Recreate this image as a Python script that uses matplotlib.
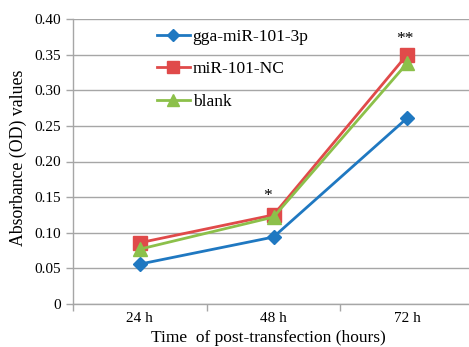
import matplotlib
matplotlib.use("Agg")
import matplotlib.pyplot as plt
import numpy as np

categories = ["24 h", "48 h", "72 h"]
mir101 = [0.056, 0.094, 0.261]
nc = [0.086, 0.125, 0.350]
blank = [0.077, 0.122, 0.338]
series_names = ["gga-miR-101-3p", "miR-101-NC", "blank"]
yticks = [0, 0.05, 0.10, 0.15, 0.20, 0.25, 0.30, 0.35, 0.40]
ytick_labels = ["0", "0.05", "0.10", "0.15", "0.20", "0.25", "0.30", "0.35", "0.40"]
star_pos = [(1, 0.152, "*"), (2, 0.372, "**")]

plt.rcParams['font.family'] = ['Liberation Serif', 'DejaVu Serif']

fig = plt.figure(figsize=(4.69, 3.47), dpi=100)
ax = fig.add_axes([73/469, 1-304/347, 401/469, 285/347])
x = np.arange(len(categories))

grid_c = "#a6a6a6"
ax.plot(x, mir101, color="#1f78c1", lw=2.0, marker="D", ms=7.5, label=series_names[0], zorder=3)
ax.plot(x, nc, color="#e04a4a", lw=2.0, marker="s", ms=9.5, label=series_names[1], zorder=3)
ax.plot(x, blank, color="#8cc04a", lw=2.0, marker="^", ms=9.5, label=series_names[2], zorder=4)

offs = [0, -0.045, -0.015]
for xi, yi, s in star_pos:
    ax.text(xi + offs[xi], yi, s, ha="center", va="center", fontsize=12.5)

ax.set_xlim(-0.5, 2.5)
ax.set_ylim(0, 0.40)
ax.set_yticks(yticks)
ax.set_yticklabels(ytick_labels, fontsize=11)
ax.set_xticks(x)
ax.set_xticklabels(categories, fontsize=11)
ax.set_xticks([-0.5, 0.5, 1.5, 2.5], minor=True)
ax.tick_params(axis="x", which="major", length=0, pad=6)
ax.tick_params(axis="x", which="minor", length=5, color=grid_c, width=1)
ax.tick_params(axis="y", length=5, color=grid_c, width=1, pad=4)
ax.yaxis.grid(True, color=grid_c, lw=1)
ax.set_axisbelow(True)
for sp in ["top", "right"]:
    ax.spines[sp].set_visible(False)
for sp in ["left", "bottom"]:
    ax.spines[sp].set_color(grid_c)
    ax.spines[sp].set_linewidth(1)

ax.set_ylabel("Absorbance (OD) values", fontsize=12.8)
ax.yaxis.set_label_coords((18 - 73) / 401, (304 - 158) / 285)
ax.set_xlabel("Time  of post-transfection (hours)", fontsize=12.5)
ax.xaxis.set_label_coords((268 - 73) / 401, -(338 - 304) / 285)
ax.xaxis.label.set_va("center")
ax.yaxis.label.set_va("center")

leg = ax.legend(loc="upper left", bbox_to_anchor=((157 - 73) / 401, (304 - 29) / 285),
                frameon=False, fontsize=12.5, borderpad=0, borderaxespad=0,
                handlelength=1.9, handletextpad=0.15, labelspacing=0.93, markerscale=0.85)

fig.savefig("out.png", dpi=100)
